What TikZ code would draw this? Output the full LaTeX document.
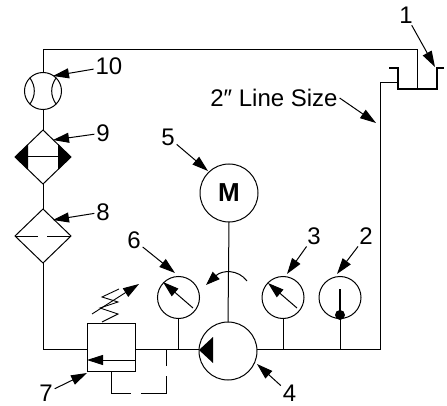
\documentclass[tikz,border=0pt]{standalone}
\usepackage{fontspec}
\setmainfont{Liberation Sans}
\usetikzlibrary{calc,arrows.meta,shapes.geometric}

\begin{document}
\begin{tikzpicture}[x=1pt, y=-1pt, line width=1pt,
    every node/.style = {inner sep=0pt, outer sep=0pt},
    number/.style = {font=\fontsize{24}{28}\selectfont, inner sep=2pt},
    gauge/.style = {shape=circle, draw, minimum size=42pt},
    bigcircle/.style = {shape=circle, draw, minimum size=58pt},
    exchanger/.style = {shape=diamond, draw, minimum width=56pt, minimum height=54pt},
    callout/.style = {-{Triangle[length=16pt,width=10pt]}},
    needle/.style = {-{Triangle[length=16pt,width=10pt]}}]
    \useasboundingbox (0,0) rectangle (447,406);

    % components
    \node[gauge, minimum size=37pt] (meter) at (43,91) {};
    \node[exchanger] (cooler) at (43,157) {};
    \node[exchanger] (filter) at (43,236) {};
    \node[bigcircle, font=\fontsize{26}{30}\selectfont\bfseries] (motor) at (229,193) {M};
    \node[bigcircle] (pump) at (228,351) {};
    \node[gauge] (gaugesix) at (178.5,297.5) {};
    \node[gauge] (gaugethree) at (283,297.5) {};
    \node[gauge] (gaugetwo) at (340,297.5) {};
    \node[shape=rectangle, draw, minimum width=48pt, minimum height=48pt] (valve) at (111,347) {};

    % numbers
    \node[number] (labelone) at (406,15) {1};
    \node[number] (labeltwo) at (366,236) {2};
    \node[number] (labelthree) at (314,236) {3};
    \node[number] (labelfour) at (289.5,393.5) {4};
    \node[number] (labelfive) at (168,137) {5};
    \node[number] (labelsix) at (134,240) {6};
    \node[number] (labelseven) at (46,393) {7};
    \node[number] (labeleight) at (103,212) {8};
    \node[number] (labelnine) at (103,133) {9};
    \node[number] (labelten) at (109,66.5) {10};
    \node[number] (labelline) at (274,98) {2\char"2033\ Line Size};

    % points on the lines
    \coordinate (topleft) at (43,50);
    \coordinate (bottomleft) at (43,349);
    \coordinate (valvein) at (87,349);
    \coordinate (valveout) at (135,349);
    \coordinate (pilot) at (166,349);
    \coordinate (pilotcorner) at (166,393);
    \coordinate (sixfoot) at (178.5,349);
    \coordinate (pumpin) at (199,349);
    \coordinate (pumpout) at (257,349);
    \coordinate (threefoot) at (283,349);
    \coordinate (twofoot) at (340,349);
    \coordinate (bottomright) at (380,349);
    \coordinate (topright) at (380,83);
    \coordinate (tankin) at (398,83);
    \coordinate (tankreturn) at (417,89);
    \coordinate (tankcorner) at (417,50);

    % tank
    \draw[line width=2pt] (389,68) -- (398,68) -- (398,89) -- (437,89) -- (437,68) -- (444,68);

    % lines
    \draw (tankreturn) -- (tankcorner) -- (topleft) -- (meter.north);
    \draw (meter.south) -- (cooler.north);
    \draw (cooler.south) -- (filter.north);
    \draw (filter.south) -- (bottomleft) -- (valvein);
    \draw (valveout) -- (pumpin);
    \draw (pumpout) -- (bottomright) -- (topright) -- (tankin);
    \draw (motor.south) -- (pump.north);
    \draw (gaugesix.south) -- (sixfoot);
    \draw (gaugethree.south) -- (threefoot);
    \draw (gaugetwo.south) -- (twofoot);
    \draw[dash pattern=on 42pt off 10pt] (valve.south) |- (pilotcorner) -- (pilot);

    % inside the meter
    \draw (meter.135) to[bend left=35] (meter.225);
    \draw (meter.45) to[bend right=35] (meter.315);

    % inside the cooler and the filter
    \draw (cooler.west) -- (cooler.east);
    \fill (cooler.west) -- ++(13,-12.5) -- ++(0,25) -- cycle;
    \fill (cooler.east) -- ++(-13,-12.5) -- ++(0,25) -- cycle;
    \draw[dash pattern=on 23pt off 9pt] (filter.west) -- (filter.east);

    % inside the pump
    \fill (pump.west) ++(0,-1) -- ++(14,-13) -- ++(0,26) -- cycle;

    % inside the gauges
    \draw[needle] ($(gaugesix)+(14.5,10.5)$) -- ($(gaugesix)+(-15.5,-15.5)$);
    \draw[needle] ($(gaugethree)+(14,10.5)$) -- ($(gaugethree)+(-15,-14.5)$);
    \draw[line width=1.6pt] (340,289) -- (340,315);
    \fill (340,315) circle[radius=5];

    % valve arrow and spring
    \draw[needle] ($(valve.east)+(0,13)$) -- ($(valve.west)+(0,13)$);
    \draw[line width=0.9pt] (102,322) -- (118,314) -- (100,308) -- (118,302) -- (102,297) -- (119,289);
    \draw[line width=0.9pt, needle] (92,314) -- (139,284);

    % rotation of the shaft
    \coordinate (turnstart) at (247,281);
    \coordinate (turnend) at (206,285);
    \draw[-{Triangle[length=14pt,width=10pt]}] (turnstart) .. controls (238,269) and (222,270) .. (turnend);

    % callouts
    \coordinate (tipone) at (435,67);
    \coordinate (tiptwo) at (337,274);
    \coordinate (tipthree) at (287,274);
    \coordinate (tipfour) at (257,364);
    \coordinate (tipfive) at (208,171);
    \coordinate (tipsix) at (175,273);
    \coordinate (tipseven) at (87,373);
    \coordinate (tipeight) at (53,220);
    \coordinate (tipnine) at (53,140);
    \coordinate (tipten) at (53,76);
    \coordinate (tipline) at (376,123);
    \draw[callout] (labelone) -- (tipone);
    \draw[callout] (labeltwo) -- (tiptwo);
    \draw[callout] (labelthree) -- (tipthree);
    \draw[callout] (labelfour) -- (tipfour);
    \draw[callout] (labelfive) -- (tipfive);
    \draw[callout] (labelsix) -- (tipsix);
    \draw[callout] (labelseven) -- (tipseven);
    \draw[callout] (labeleight) -- (tipeight);
    \draw[callout] (labelnine) -- (tipnine);
    \draw[callout] (labelten) -- (tipten);
    \draw[callout] (labelline.east) -- (tipline);
\end{tikzpicture}
\end{document}
